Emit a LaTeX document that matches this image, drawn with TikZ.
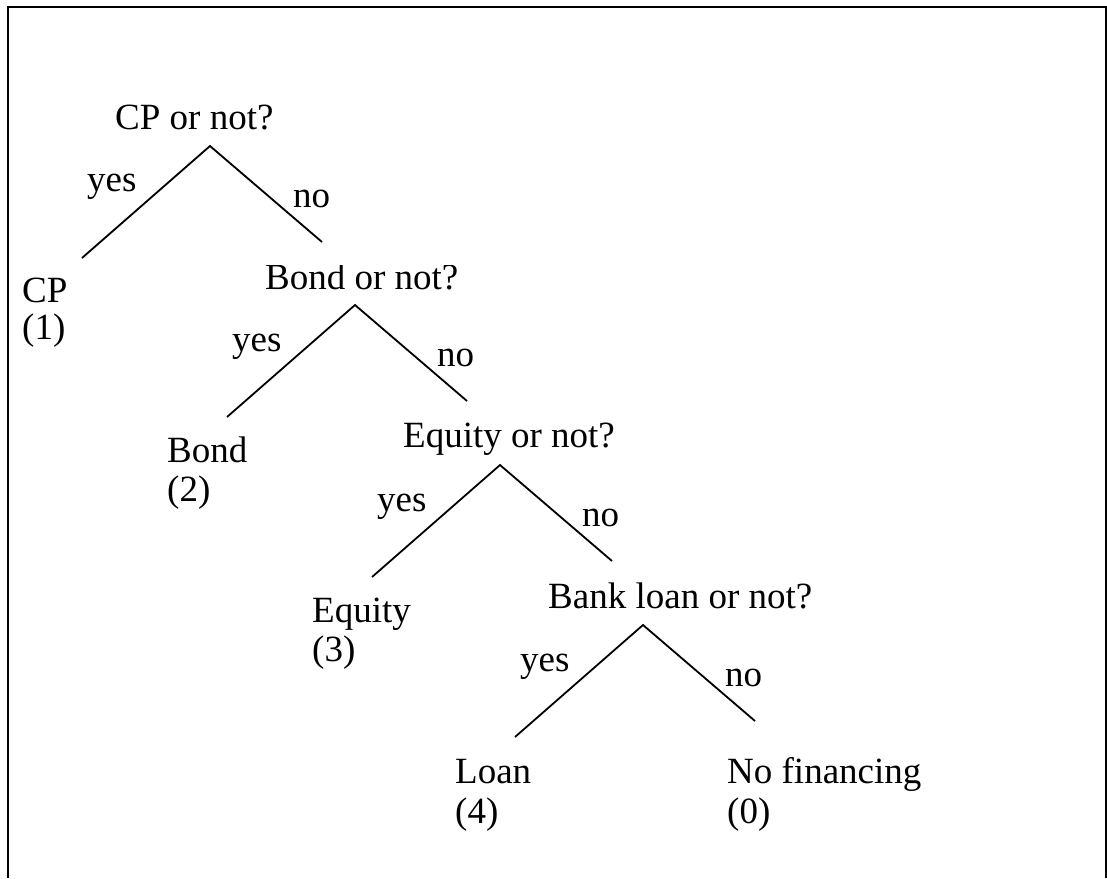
\documentclass[tikz,border=0pt]{standalone}
\usepackage{fontspec}
\setmainfont{Liberation Serif}
\usetikzlibrary{positioning}

\begin{document}
\begin{tikzpicture}[x=1pt,y=-1pt]
    \tikzset{txt/.style= {inner sep=0pt
    , anchor=base west
    , font=\fontsize{37}{40}\selectfont
      }
    , branch/.style={draw, line width=1.8pt}
    , frame/.style={draw, line width=2.5pt}
    }

\useasboundingbox (0,0) rectangle (1107,878);
\path[frame] (8,878) -- (8,7) -- (1106,7) -- (1106,878);

\coordinate (top1) at (210,146);
\coordinate (top2) at (355,305);
\coordinate (top3) at (500,465);
\coordinate (top4) at (643,625);

\coordinate [below left=112pt and 128pt of top1] (left1);
\coordinate [below right=96pt and 112pt of top1] (right1);
\coordinate [below left=112pt and 128pt of top2] (left2);
\coordinate [below right=96pt and 112pt of top2] (right2);
\coordinate [below left=112pt and 128pt of top3] (left3);
\coordinate [below right=96pt and 112pt of top3] (right3);
\coordinate [below left=112pt and 128pt of top4] (left4);
\coordinate [below right=96pt and 112pt of top4] (right4);

\node [txt] (q1) at (115,129) {CP or not?};
\begin{scope}
\clip (240,265.5) rectangle (480,310);
\node [txt] (q2) at (265,289) {Bond or not?};
\end{scope}
\node [txt] (q3) at (403,447) {Equity or not?};
\node [txt] (q4) at (548,608) {Bank loan or not?};

\node [txt] (yes1) at (87,191) {yes};
\node [txt] (no1) at (293,207) {no};
\node [txt] (yes2) at (232,351) {yes};
\node [txt] (no2) at (437,366) {no};
\node [txt] (yes3) at (377,511) {yes};
\node [txt] (no3) at (582,526) {no};
\node [txt] (yes4) at (520,671) {yes};
\node [txt] (no4) at (725,686) {no};

\node [txt] (cp) at (22,302) {CP};
\node [txt] (cpnum) at (22,339) {(1)};
\node [txt] (bond) at (167,462) {Bond};
\node [txt] (bondnum) at (167,501) {(2)};
\node [txt] (equity) at (312,622) {Equity};
\node [txt] (equitynum) at (312,661) {(3)};
\node [txt] (loan) at (455,783) {Loan};
\node [txt] (loannum) at (455,823) {(4)};
\node [txt] (nofin) at (727,783) {No financing};
\node [txt] (nofinnum) at (727,823) {(0)};

 \path[branch] (left1) -- (top1) -- (right1);
 \path[branch] (left2) -- (top2) -- (right2);
 \path[branch] (left3) -- (top3) -- (right3);
 \path[branch] (left4) -- (top4) -- (right4);
\end{tikzpicture}
\end{document}
